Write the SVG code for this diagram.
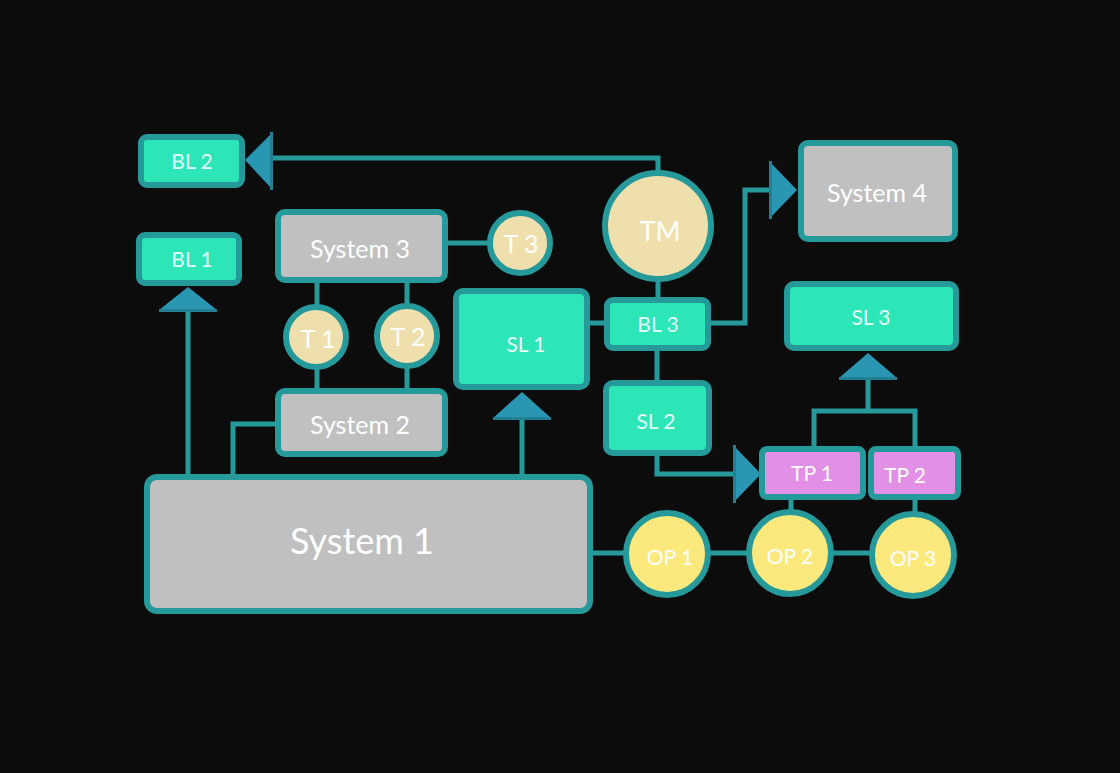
<svg xmlns="http://www.w3.org/2000/svg" width="1120" height="773" viewBox="0 0 1120 773">
<style>
.bg{fill:#0c0c0c}
.ln{fill:none;stroke:#26999b;stroke-width:5}
.box{stroke:#26999b;stroke-width:6}
.gray{fill:#c0c0c0}
.teal{fill:#2ce6b8}
.pink{fill:#e28fe6}
.tan{fill:#efdfad}
.yel{fill:#fbe97e}
.arr{fill:#2a97b2}
.arrd{fill:#237f93}
text{font-family:Lato,"Open Sans","Liberation Sans",sans-serif;fill:#ffffff;text-anchor:middle;dominant-baseline:central}
.tl{fill:#e6fff8}
</style>
<rect class="bg" x="0" y="0" width="1120" height="773"/>
<g id="connectors">
<polyline class="ln" points="272,158 658,158 658,172"/>
<line class="ln" x1="188" y1="310" x2="188" y2="477"/>
<polyline class="ln" points="277,424 233,424 233,477"/>
<line class="ln" x1="522" y1="418" x2="522" y2="477"/>
<line class="ln" x1="448" y1="243" x2="490" y2="243"/>
<line class="ln" x1="317" y1="282" x2="317" y2="390"/>
<line class="ln" x1="407" y1="282" x2="407" y2="390"/>
<line class="ln" x1="658" y1="280" x2="658" y2="300"/>
<line class="ln" x1="589" y1="323" x2="606" y2="323"/>
<polyline class="ln" points="710,323 745,323 745,190 770,190"/>
<line class="ln" x1="657" y1="350" x2="657" y2="382"/>
<polyline class="ln" points="657,455 657,474 734,474"/>
<polyline class="ln" points="814,447 814,411 915,411 915,447"/>
<line class="ln" x1="868" y1="378" x2="868" y2="411"/>
<line class="ln" x1="591" y1="553" x2="627" y2="553"/>
<line class="ln" x1="707" y1="553" x2="749" y2="553"/>
<line class="ln" x1="831" y1="553" x2="872" y2="553"/>
<line class="ln" x1="791" y1="498" x2="791" y2="511"/>
<line class="ln" x1="915" y1="498" x2="915" y2="513"/>
<polygon class="arr" points="245,160 273,132 273,190"/>
<rect class="arrd" x="270" y="132" width="3" height="58"/>
<polygon class="arr" points="188,287 217,310 159,310"/>
<rect class="arrd" x="159" y="309" width="58" height="3"/>
<polygon class="arr" points="522,392 551,418 493,418"/>
<rect class="arrd" x="493" y="417" width="58" height="3"/>
<polygon class="arr" points="797,190 769,161 769,219"/>
<rect class="arrd" x="769" y="161" width="3" height="58"/>
<polygon class="arr" points="761,474 733,445 733,503"/>
<rect class="arrd" x="733" y="445" width="3" height="58"/>
<polygon class="arr" points="868,353 897,378 839,378"/>
<rect class="arrd" x="839" y="377" width="58" height="3"/>
</g>
<g id="bl2"><rect class="box teal" x="141" y="137" width="101" height="48" rx="6"/><text class="tl" x="192" y="160" font-size="21">BL 2</text></g>
<g id="bl1"><rect class="box teal" x="139" y="235" width="100" height="48" rx="6"/><text class="tl" x="192" y="258" font-size="21">BL 1</text></g>
<g id="system3"><rect class="box gray" x="278" y="212" width="167" height="68" rx="7"/><text x="360" y="248" font-size="25">System 3</text></g>
<g id="t3"><circle class="box tan" cx="520" cy="243" r="30"/><text x="521" y="243" font-size="25">T 3</text></g>
<g id="t1"><circle class="box tan" cx="316" cy="337" r="30"/><text x="318" y="338" font-size="25">T 1</text></g>
<g id="t2"><circle class="box tan" cx="407" cy="336" r="30"/><text x="408" y="336" font-size="25">T 2</text></g>
<g id="system2"><rect class="box gray" x="278" y="391" width="167" height="63" rx="7"/><text x="360" y="424" font-size="25">System 2</text></g>
<g id="sl1"><rect class="box teal" x="456" y="291" width="131" height="96" rx="7"/><text class="tl" x="526" y="343" font-size="21">SL 1</text></g>
<g id="tm"><circle class="box tan" cx="658" cy="226" r="53"/><text x="660" y="230" font-size="27">TM</text></g>
<g id="bl3"><rect class="box teal" x="607" y="300" width="101" height="48" rx="6"/><text class="tl" x="658" y="323" font-size="21">BL 3</text></g>
<g id="system4"><rect class="box gray" x="801" y="143" width="154" height="96" rx="7"/><text x="877" y="192" font-size="25">System 4</text></g>
<g id="sl2"><rect class="box teal" x="606" y="383" width="103" height="70" rx="7"/><text class="tl" x="656" y="420" font-size="21">SL 2</text></g>
<g id="sl3"><rect class="box teal" x="787" y="284" width="169" height="64" rx="7"/><text class="tl" x="871" y="316" font-size="21">SL 3</text></g>
<g id="tp1"><rect class="box pink" x="762" y="449" width="101" height="48" rx="5"/><text x="812" y="472" font-size="21">TP 1</text></g>
<g id="tp2"><rect class="box pink" x="871" y="449" width="87" height="48" rx="5"/><text x="905" y="474" font-size="21">TP 2</text></g>
<g id="system1"><rect class="box gray" x="147" y="477" width="443" height="134" rx="10"/><text x="362" y="540" font-size="36">System 1</text></g>
<g id="op1"><circle class="box yel" cx="667" cy="554" r="41"/><text x="670" y="556" font-size="21">OP 1</text></g>
<g id="op2"><circle class="box yel" cx="790" cy="553" r="41"/><text x="790" y="555" font-size="21">OP 2</text></g>
<g id="op3"><circle class="box yel" cx="913" cy="555" r="41"/><text x="913" y="557" font-size="21">OP 3</text></g>
</svg>
